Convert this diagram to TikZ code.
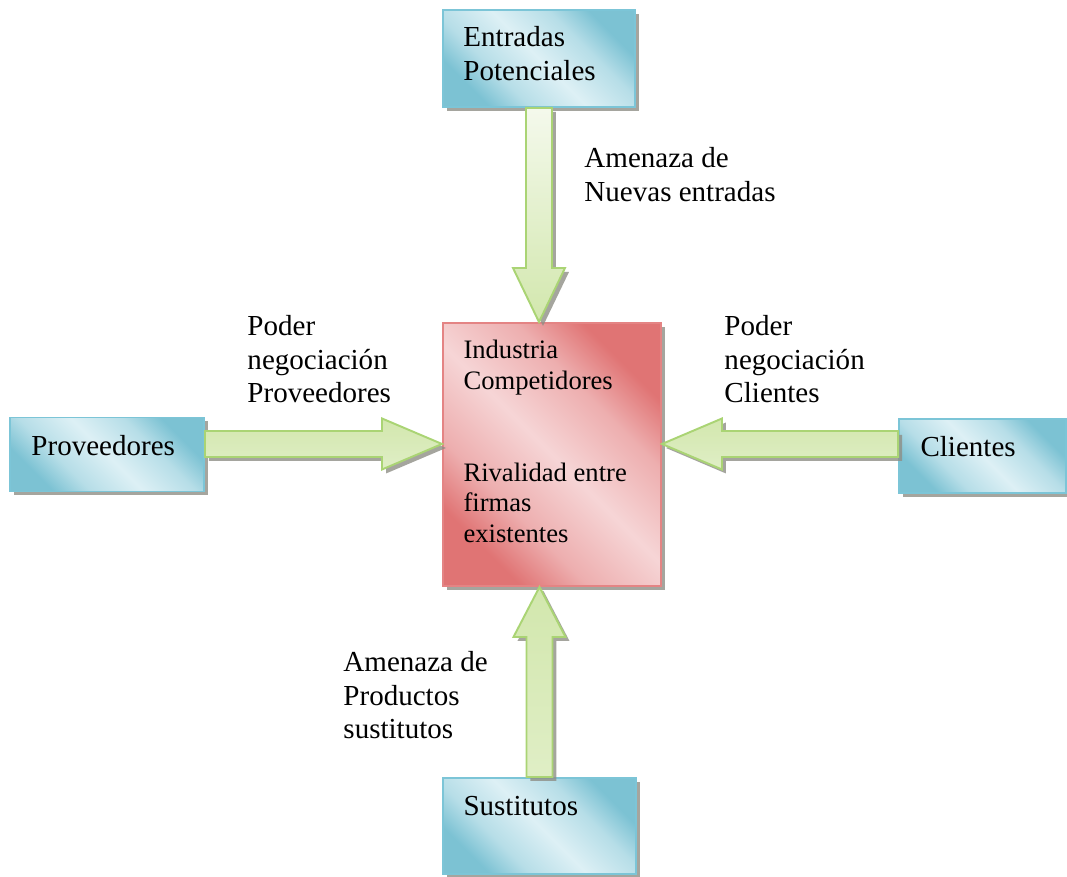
\documentclass[tikz,border=0pt]{standalone}
\usepackage{fontspec}
\setmainfont{Liberation Serif}
\usetikzlibrary{positioning, calc, shadows}

\definecolor{tealdark}{HTML}{7CC2D3}
\definecolor{teallight}{HTML}{DDF0F5}
\definecolor{tealline}{HTML}{7CC5D7}
\definecolor{rosedark}{HTML}{E07474}
\definecolor{roselight}{HTML}{F6D5D6}
\definecolor{roseline}{HTML}{E48484}
\definecolor{leafline}{HTML}{AAD474}
\definecolor{leafdark}{HTML}{D2E7AD}
\definecolor{leaflight}{HTML}{F4F9EC}
\definecolor{shadowgrey}{HTML}{8E8E86}
\colorlet{tealmid}{tealdark!40!teallight}
\colorlet{rosemid}{rosedark!40!roselight}

\pgfdeclarehorizontalshading{tealdiag}{100bp}{color(0bp)=(tealdark); color(26bp)=(tealdark);
  color(36bp)=(tealmid); color(50bp)=(teallight); color(64bp)=(tealmid); color(74bp)=(tealdark); color(100bp)=(tealdark)}
\pgfdeclarehorizontalshading{rosediag}{100bp}{color(0bp)=(rosedark); color(26bp)=(rosedark);
  color(36bp)=(rosemid); color(50bp)=(roselight); color(64bp)=(rosemid); color(74bp)=(rosedark); color(100bp)=(rosedark)}

\tikzset{
  boxshadow/.style={drop shadow={shadow xshift=1.65pt, shadow yshift=-1.65pt, fill=shadowgrey, opacity=.8}},
  forcebox/.style={draw=tealline, line width=0.8pt, shading=tealdiag, shading angle=45, inner sep=0pt, boxshadow},
  corebox/.style={draw=roseline, line width=0.8pt, shading=rosediag, shading angle=45, inner sep=0pt, boxshadow},
  forcearrow/.style={draw=leafline, line width=0.8pt, line join=miter, boxshadow},
  forcetext/.style={anchor=north west, align=left, inner sep=0pt, font=\fontsize{12}{13.8}\selectfont},
  coretext/.style={forcetext, font=\fontsize{11}{12.65}\selectfont}
}

\begin{document}
\begin{tikzpicture}[x=0.01453cm, y=0.01453cm]
    \useasboundingbox (0,0) rectangle (1067,877);

    % boxes
    \node[corebox, minimum width=3.167cm, minimum height=3.821cm] (center) at (552, 422.5) {};
    \node[forcebox, minimum width=2.790cm, minimum height=1.409cm] (top) at (539, 818.5) {};
    \node[forcebox, minimum width=2.819cm, minimum height=1.075cm] (left) at (107, 422.5) {};
    \node[forcebox, minimum width=2.426cm, minimum height=1.075cm] (right) at (982.5, 421) {};
    \node[forcebox, minimum width=2.804cm, minimum height=1.395cm] (bot) at (539.5, 51) {};

    % texts inside the boxes
    \node[forcetext] (toptext) at ($(top.north west)+(21,-17)$) {Entradas\\Potenciales};
    \node[coretext] (industry) at ($(center.north west)+(21,-18)$)
        {Industria\\Competidores\\[2\baselineskip]Rivalidad entre\\firmas\\existentes};
    \node[forcetext] (lefttext) at ($(left.north west)+(22,-18)$) {Proveedores};
    \node[forcetext] (righttext) at ($(right.north west)+(22,-18)$) {Clientes};
    \node[forcetext] (bottext) at ($(bot.north west)+(21,-19)$) {Sustitutos};

    % block arrows towards the industry
    \coordinate (ttip) at (top.south |- center.north);
    \draw[forcearrow, top color=leaflight, bottom color=leafdark]
        ($(top.south)+(-13,0)$) -- ($(ttip)+(-13,54)$) -- ($(ttip)+(-26,54)$) -- (ttip)
        -- ($(ttip)+(26,54)$) -- ($(ttip)+(13,54)$) -- ($(top.south)+(13,0)$) -- cycle;

    \coordinate (btip) at (bot.north |- center.south);
    \draw[forcearrow, top color=leafdark, middle color=leaflight, bottom color=leafdark!70]
        ($(bot.north)+(-13,0)$) -- ($(btip)+(-13,-50)$) -- ($(btip)+(-26,-50)$) -- (btip)
        -- ($(btip)+(26,-50)$) -- ($(btip)+(13,-50)$) -- ($(bot.north)+(13,0)$) -- cycle;

    \coordinate (ltail) at ($(left.east)+(0,10.5)$);
    \coordinate (ltip) at (ltail -| center.west);
    \draw[forcearrow, top color=leafdark, middle color=leaflight, bottom color=leafdark!70]
        ($(ltail)+(0,13)$) -- ($(ltip)+(-60,13)$) -- ($(ltip)+(-60,25.5)$) -- (ltip)
        -- ($(ltip)+(-60,-25.5)$) -- ($(ltip)+(-60,-13)$) -- ($(ltail)+(0,-13)$) -- cycle;

    \coordinate (rtail) at (right.west |- ltail);
    \coordinate (rtip) at (rtail -| center.east);
    \draw[forcearrow, top color=leafdark, middle color=leaflight, bottom color=leafdark!70]
        ($(rtail)+(0,13)$) -- ($(rtip)+(60,13)$) -- ($(rtip)+(60,25.5)$) -- (rtip)
        -- ($(rtip)+(60,-25.5)$) -- ($(rtip)+(60,-13)$) -- ($(rtail)+(0,-13)$) -- cycle;

    % labels of the forces
    \node[forcetext] (newlabel) at (584, 729.8) {Amenaza de\\Nuevas entradas};
    \node[forcetext] (provlabel) at (247, 561.8) {Poder\\negociación\\Proveedores};
    \node[forcetext] (clilabel) at (724, 561.8) {Poder\\negociación\\Clientes};
    \node[forcetext] (sustlabel) at (343, 225.8) {Amenaza de\\Productos\\sustitutos};

\end{tikzpicture}
\end{document}
